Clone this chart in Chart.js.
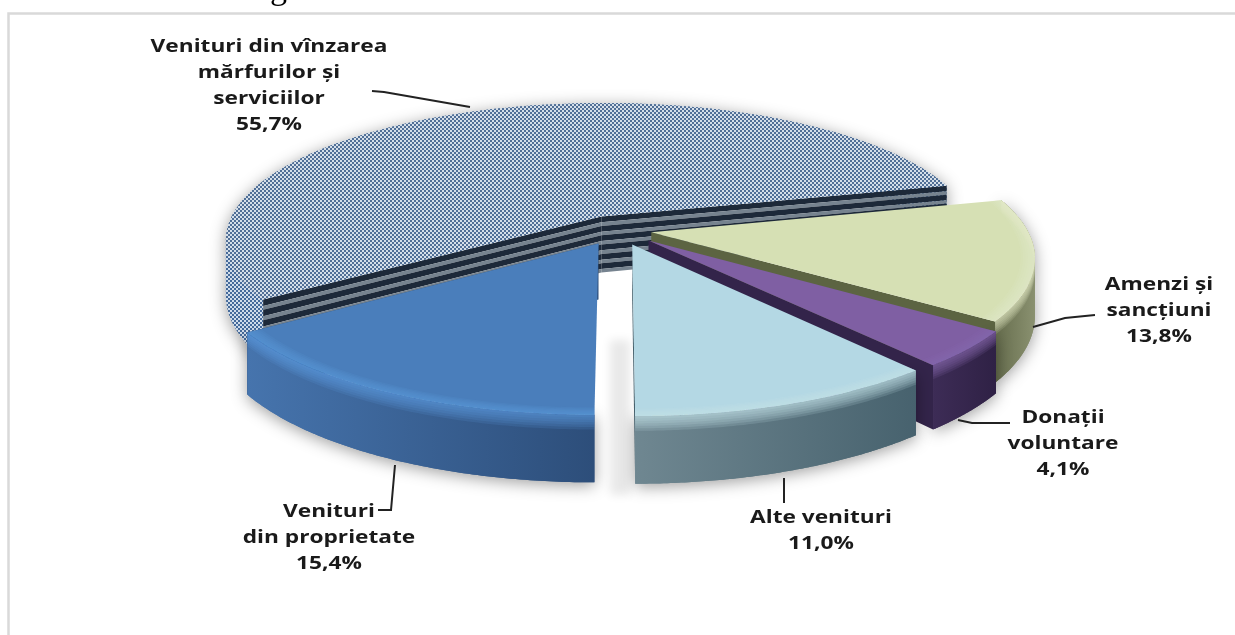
<!DOCTYPE html>
<html><head><meta charset="utf-8">
<style>html,body{margin:0;padding:0;background:#fff;overflow:hidden}#w{position:relative;width:1235px;height:635px}canvas{display:block}</style>
<script src="https://cdn.jsdelivr.net/npm/chart.js@4"></script>
</head><body><div id="w"><canvas id="c" width="1235" height="635"></canvas></div>
<script>
const categories = ["Venituri din vînzarea\nmărfurilor și\nserviciilor","Amenzi și\nsancțiuni","Donații\nvoluntare","Alte venituri","Venituri\ndin proprietate"];
const values = [55.7,13.8,4.1,11.0,15.4];
const percentLabels = ["55,7%","13,8%","4,1%","11,0%","15,4%"];
const explode = [33,27,33,33,33];
const topColors = [null,"#d6e0b4","#7f5fa3","#b4d8e4","#4a7ebb"];
const wallFrom = [null,"#666d4d","#3d2c56","#6f8791","#4674ad"];
const wallTo = [null,"#8a9170","#2f2145","#47626e","#2d4e7a"];
const cutColors = [null,"#5c6442","#33244a","#47626e","#2d4e7a"];
const rimColors = [null,"#e6edca","#8a6cb0","#c9e4ec","#5f9ade"];
const labelAnchors = [[269,47],[1159,285],[1063,418],[821,518],[329,512]];
const leaders = [[[372,91],[384,92],[470,107]],[[1033,327],[1065,318],[1095,315]],[[958,420],[972,423],[1010,423]],[[784,478],[784,503]],[[395,465],[391,510],[378,510]]];

const view={cx:618,cy:230,rx:376,ry:137,k:0.17,h:55};
function proj(X,Y,h){const p=1/(1-view.k*Y);return [view.cx+view.rx*X*p,view.cy+view.ry*Y*p+(h||0)*p];}
function geo(arc){
  const off=arc.options.offset/arc.outerRadius,m=(arc.startAngle+arc.endAngle)/2;
  const ox=off*Math.cos(m),oy=off*Math.sin(m);
  const pts=[];const n=90;
  for(let i=0;i<=n;i++){const a=arc.startAngle+(arc.endAngle-arc.startAngle)*i/n;pts.push([ox+Math.cos(a),oy+Math.sin(a)]);}
  return {ox,oy,pts};
}
function poly(ctx,list){ctx.beginPath();list.forEach((q,i)=>i?ctx.lineTo(q[0],q[1]):ctx.moveTo(q[0],q[1]));ctx.closePath();}
// union of equally oriented quads, so the swept side has no gap where its edges cross
function sweep(top,bot){
  const path=new Path2D();
  for(let i=0;i<top.length-1;i++){
    let q=[top[i],top[i+1],bot[i+1],bot[i]],area=0;
    q.forEach((a,j)=>{const b=q[(j+1)%4];area+=a[0]*b[1]-b[0]*a[1];});
    if(area<0)q=q.reverse();
    path.moveTo(q[0][0],q[0][1]);for(let j=1;j<4;j++)path.lineTo(q[j][0],q[j][1]);path.closePath();
  }
  return path;
}
function hatch(ctx,a,b){
  const t=document.createElement('canvas');t.width=4;t.height=4;const g=t.getContext('2d');
  g.fillStyle=a;g.fillRect(0,0,4,4);g.fillStyle=b;g.fillRect(0,0,2,2);g.fillRect(2,2,2,2);
  return ctx.createPattern(t,'repeat');
}
function stripedCut(ctx,A,B){
  const periods=6,H=view.h+2;
  for(let i=0;i<periods;i++){
    const a=H*i/periods,b=a+H/periods*0.62,c=H*(i+1)/periods;
    poly(ctx,[proj(A[0],A[1],a),proj(B[0],B[1],a),proj(B[0],B[1],b),proj(A[0],A[1],b)]);ctx.fillStyle='#1d2939';ctx.fill();
    poly(ctx,[proj(A[0],A[1],b),proj(B[0],B[1],b),proj(B[0],B[1],c),proj(A[0],A[1],c)]);ctx.fillStyle='#76838f';ctx.fill();
  }
}
const pie3d={id:'pie3d',
 beforeDatasetDraw(chart){
  const ctx=chart.ctx,arcs=chart.getDatasetMeta(0).data;
  ctx.save();
  ctx.save();ctx.shadowColor='rgba(0,0,0,.09)';ctx.shadowBlur=10;ctx.shadowOffsetX=3000;
  ctx.fillStyle='#000';ctx.fillRect(610-3000,340,20,155);ctx.restore();
  [0,1,2,3,4].forEach(i=>{
    const arc=arcs[i],{ox,oy,pts}=geo(arc);
    const top=pts.map(q=>proj(q[0],q[1],0)),bot=pts.map(q=>proj(q[0],q[1],view.h));
    const apex=proj(ox,oy,0),apexB=proj(ox,oy,view.h);
    const wall=sweep(top,bot);
    if(i===0){
      ctx.save();ctx.shadowColor='rgba(0,0,0,.38)';ctx.shadowBlur=16;ctx.shadowOffsetY=3;
      ctx.fillStyle=hatch(ctx,'#456a9a','#d0dcea');ctx.fill(wall);ctx.restore();
      stripedCut(ctx,[ox,oy],pts[0]);
      stripedCut(ctx,[ox,oy],pts[pts.length-1]);
      poly(ctx,[apex].concat(top));ctx.fillStyle=hatch(ctx,'#516f96','#d5dfe9');ctx.fill();
    }else{
      let x0=Infinity,x1=-Infinity;top.forEach(q=>{x0=Math.min(x0,q[0]);x1=Math.max(x1,q[0]);});
      const g=ctx.createLinearGradient(x0,0,x1,0);
      g.addColorStop(0,wallFrom[i]);g.addColorStop(1,wallTo[i]);
      ctx.save();ctx.shadowColor='rgba(0,0,0,.38)';ctx.shadowBlur=16;ctx.shadowOffsetY=3;
      ctx.fillStyle=g;ctx.fill(wall);ctx.restore();
      const e=top[top.length-1],eb=bot[bot.length-1];
      poly(ctx,[apex,e,eb,apexB]);ctx.fillStyle=cutColors[i];ctx.fill();
      ctx.fillStyle=g;ctx.fill(wall);
      poly(ctx,[apex].concat(top));ctx.fillStyle=topColors[i];ctx.fill();
      ctx.fillStyle=rimColors[i];
      for(let j=1;j<=6;j++){
        ctx.globalAlpha=0.16;
        const low=pts.map(q=>proj(q[0],q[1],j*2));
        ctx.fill(sweep(top,low));
        const inner=pts.map(q=>{const s=1-j*0.006;return proj(ox+(q[0]-ox)*s,oy+(q[1]-oy)*s,0);});
        ctx.globalAlpha=0.14;
        ctx.fill(sweep(top,inner));
      }
      ctx.globalAlpha=1;
    }
  });
  ctx.restore();
  return false;
 },
 afterDraw(chart){
  const ctx=chart.ctx;
  ctx.save();
  ctx.strokeStyle='#d9d9d9';ctx.lineWidth=2.5;
  ctx.beginPath();ctx.moveTo(8.5,635);ctx.lineTo(8.5,13.5);ctx.lineTo(1235,13.5);ctx.stroke();
  ctx.fillStyle='#000';ctx.font='34px "Liberation Serif"';ctx.textAlign='left';ctx.textBaseline='alphabetic';
  ctx.fillText('g',270,-1);
  ctx.strokeStyle='#222';ctx.lineWidth=2;
  leaders.forEach(l=>{ctx.beginPath();l.forEach((q,j)=>j?ctx.lineTo(q[0],q[1]):ctx.moveTo(q[0],q[1]));ctx.stroke();});
  ctx.font='700 18px "Open Sans"';ctx.textAlign='center';ctx.textBaseline='middle';ctx.fillStyle='#1a1a1a';
  categories.forEach((c,i)=>{
    const lines=c.split('\n').concat(percentLabels[i]);
    lines.forEach((t,j)=>{
      ctx.save();ctx.translate(labelAnchors[i][0],labelAnchors[i][1]+j*26);ctx.scale(1.26,1);
      ctx.fillText(t,0,0);ctx.restore();
    });
  });
  ctx.restore();
 }};
new Chart(document.getElementById('c'),{type:'pie',
 data:{labels:categories,datasets:[{data:values,offset:explode,borderWidth:0,backgroundColor:'#4a7ebb'}]},
 options:{responsive:false,animation:false,rotation:235.44,
  plugins:{legend:{display:false},tooltip:{enabled:false}}},
 plugins:[pie3d]});
</script></body></html>
